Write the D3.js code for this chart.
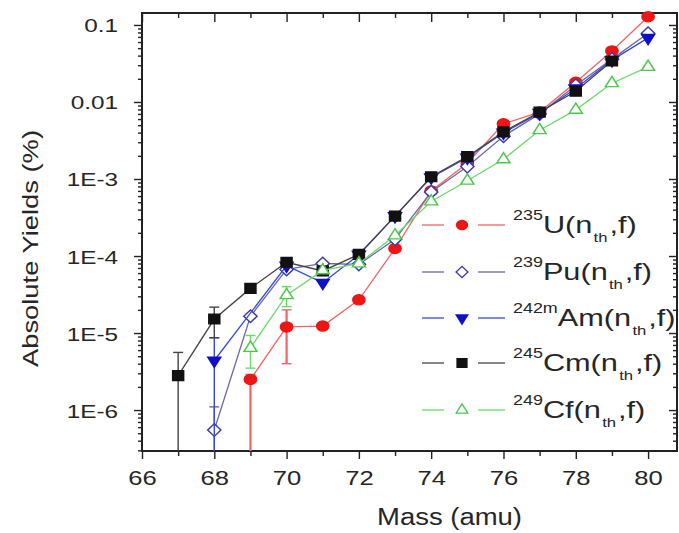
<!DOCTYPE html>
<html lang="en">
<head>
<meta charset="UTF-8">
<title>Absolute Yields</title>
<style>
  body { margin: 0; background: #fff; }
  svg { display: block; }
  text { font-family: "Liberation Sans", Arial, sans-serif; fill: #262626; }
</style>
</head>
<body>
<div id="chart"></div>
<script src="https://d3js.org/d3.v7.min.js"></script>
<script>
// data (absolute yields in %, null = no point)
const masses   = [67, 68, 69, 70, 71, 72, 73, 74, 75, 76, 77, 78, 79, 80];
const yieldU   = [null, null, 2.5e-6, 1.2e-5, 1.23e-5, 2.7e-5, 1.25e-4, 7.0e-4, 1.6e-3, 5.2e-3, 7.4e-3, 1.8e-2, 4.6e-2, 0.128];
const yieldPu  = [null, 5.5e-7, 1.65e-5, 6.7e-5, 8.0e-5, 7.8e-5, 1.65e-4, 6.8e-4, 1.45e-3, 3.6e-3, 7.0e-3, 1.65e-2, 3.6e-2, 0.078];
const yieldAm  = [null, 4.4e-6, null, 7.5e-5, 4.5e-5, 1.04e-4, 3.3e-4, 1.05e-3, 1.9e-3, 4.0e-3, 7.2e-3, 1.5e-2, 3.5e-2, 0.068];
const yieldCm  = [2.8e-6, 1.52e-5, 3.8e-5, 8.3e-5, 6.4e-5, 1.05e-4, 3.3e-4, 1.07e-3, 1.95e-3, 4.1e-3, 7.4e-3, 1.38e-2, 3.4e-2, null];
const yieldCf  = [null, null, 6.4e-6, 3.1e-5, 6.5e-5, 8.0e-5, 1.85e-4, 5.1e-4, 9.5e-4, 1.8e-3, 4.3e-3, 7.9e-3, 1.75e-2, 0.0285];

// error bars: upper / lower extents (same index as masses)
const errUpU  = [0, 0, 0.4e-6, 8e-6, 0, 0, 0, 0, 0, 0, 0, 0, 0, 0];
const errLoU  = [0, 0, 2.5e-6, 8e-6, 0, 0, 0, 0, 0, 0, 0, 0, 0, 0];
const errPu = [0, 5.5e-7, 0, 0, 0, 0, 0, 0, 0, 0, 0, 0, 0, 0];
const errAm = [0, 4.3e-6, 0, 0, 0, 0, 0, 0, 0, 0, 0, 0, 0, 0];
const errCm = [2.8e-6, 6.5e-6, 4e-6, 0, 0, 0, 0, 0, 0, 0, 0, 0, 0, 0];
const errCf = [0, 0, 2.9e-6, 9e-6, 0, 0, 0, 0, 0, 0, 0, 0, 0, 0];

const isotopes = ["235", "239", "242m", "245", "249"];
const elements = ["U", "Pu", "Am", "Cm", "Cf"];

const xTickValues = [66, 68, 70, 72, 74, 76, 78, 80];
const xMinorValues = [67, 69, 71, 73, 75, 77, 79];
const yTickValues = [1e-6, 1e-5, 1e-4, 1e-3, 0.01, 0.1];
const yTickLabels = ["1E-6", "1E-5", "1E-4", "1E-3", "0.01", "0.1"];

const W = 679, H = 533;
const pLeft = 142, pRight = 677, pTop = 13, pBottom = 451;
const stretch = 1.28;

const svg = d3.select("#chart").append("svg").attr("width", W).attr("height", H);

const x = d3.scaleLinear().domain([66, 80.8]).range([pLeft, pRight]);
const y = d3.scaleLog().domain([2.94e-7, 0.143]).range([pBottom, pTop]);

// minor log ticks
const yMinor = [];
[-7, -6, -5, -4, -3, -2, -1].forEach(e => {
  for (let k = 2; k <= 9; k++) {
    const v = k * Math.pow(10, e);
    if (v >= y.domain()[0] && v <= y.domain()[1]) yMinor.push(v);
  }
});

const axisStyle = g => {
  g.selectAll("line").attr("stroke", "#222").attr("stroke-width", 1.4);
  g.select(".domain").remove();
};

// left axis
svg.append("g").attr("transform", `translate(${pLeft},0)`)
  .call(d3.axisLeft(y).tickValues(yTickValues).tickSize(8)
    .tickFormat((d, i) => yTickLabels[i]))
  .call(axisStyle)
  .call(g => g.selectAll("text")
    .attr("x", 0).attr("dy", null)
    .attr("transform", "translate(-24,7) scale(" + stretch + ",1)")
    .style("font-size", "19px").attr("fill", "#262626"));
svg.append("g").attr("transform", `translate(${pLeft},0)`)
  .call(d3.axisLeft(y).tickValues(yMinor).tickSize(4).tickFormat(""))
  .call(axisStyle);

// right axis, ticks inward
svg.append("g").attr("transform", `translate(${pRight},0)`)
  .call(d3.axisRight(y).tickValues(yTickValues).tickSize(-8).tickFormat(""))
  .call(axisStyle);
svg.append("g").attr("transform", `translate(${pRight},0)`)
  .call(d3.axisRight(y).tickValues(yMinor).tickSize(-4).tickFormat(""))
  .call(axisStyle);

// bottom axis
svg.append("g").attr("transform", `translate(0,${pBottom})`)
  .call(d3.axisBottom(x).tickValues(xTickValues).tickSize(8).tickFormat(d3.format("d")))
  .call(axisStyle)
  .call(g => g.selectAll("text")
    .attr("y", 0).attr("dy", null)
    .attr("transform", "translate(0,34) scale(" + stretch + ",1)")
    .style("font-size", "20px").attr("fill", "#262626"));
svg.append("g").attr("transform", `translate(0,${pBottom})`)
  .call(d3.axisBottom(x).tickValues(xMinorValues).tickSize(5).tickFormat(""))
  .call(axisStyle);

// top axis, ticks inward
svg.append("g").attr("transform", `translate(0,${pTop})`)
  .call(d3.axisTop(x).tickValues(xTickValues).tickSize(-9).tickFormat(""))
  .call(axisStyle);
svg.append("g").attr("transform", `translate(0,${pTop})`)
  .call(d3.axisTop(x).tickValues(xMinorValues).tickSize(-5).tickFormat(""))
  .call(axisStyle);

// frame
svg.append("rect")
  .attr("x", pLeft).attr("y", pTop)
  .attr("width", pRight - pLeft).attr("height", pBottom - pTop)
  .attr("fill", "none").attr("stroke", "#222").attr("stroke-width", 2);

// axis titles
svg.append("text")
  .attr("x", 449.5).attr("y", 525)
  .attr("text-anchor", "middle")
  .attr("textLength", 145).attr("lengthAdjust", "spacingAndGlyphs")
  .style("font-size", "23px")
  .text("Mass (amu)");

svg.append("text")
  .attr("transform", "rotate(-90)")
  .attr("x", -248.5).attr("y", 38)
  .attr("text-anchor", "middle")
  .attr("textLength", 237).attr("lengthAdjust", "spacingAndGlyphs")
  .style("font-size", "22px")
  .text("Absolute Yields (%)");

// series
const series = [
  { vals: yieldU,  up: errUpU, lo: errLoU, line: "#f06464", mark: "#ee1515", fill: "#ee1515", sym: d3.symbolCircle,   size: 80, rot: 0,  sx: 1.2 },
  { vals: yieldPu, up: errPu,  lo: errPu,  line: "#6a6aa6", mark: "#3a3ab0", fill: "#fff",    sym: d3.symbolSquare,   size: 80, rot: 45, sx: 1.05 },
  { vals: yieldAm, up: errAm,  lo: errAm,  line: "#3848dc", mark: "#1010c8", fill: "#1010c8", sym: d3.symbolTriangle, size: 60, rot: 180, sx: 1.1 },
  { vals: yieldCm, up: errCm,  lo: errCm,  line: "#444",    mark: "#111",    fill: "#111",    sym: d3.symbolSquare,   size: 95, rot: 0,  sx: 1.12 },
  { vals: yieldCf, up: errCf,  lo: errCf,  line: "#6ada6a", mark: "#4cc84c", fill: "#fff",    sym: d3.symbolTriangle, size: 60, rot: 0,  sx: 1.1 }
];

const ymin = y.domain()[0];
const line = d3.line()
  .defined(d => d.v !== null)
  .x(d => x(d.m)).y(d => y(d.v));

series.forEach((s, si) => {
  const pts = masses.map((m, i) => ({ m: m, v: s.vals[i], up: s.up[i], lo: s.lo[i] }));
  const valid = pts.filter(d => d.v !== null);
  const g = svg.append("g");

  g.append("path")
    .datum(valid)
    .attr("d", line)
    .attr("fill", "none")
    .attr("stroke", s.line)
    .attr("stroke-width", 1.3);

  // error bars
  valid.filter(d => d.up > 0 || d.lo > 0).forEach(d => {
    const hi = y(d.v + d.up);
    const lo = d.v - d.lo > ymin ? y(d.v - d.lo) : pBottom;
    const cx = x(d.m);
    g.append("line").attr("x1", cx).attr("x2", cx).attr("y1", hi).attr("y2", lo)
      .attr("stroke", s.line).attr("stroke-width", si === 0 ? 2.2 : 1.4);
    g.append("line").attr("x1", cx - 5).attr("x2", cx + 5).attr("y1", hi).attr("y2", hi)
      .attr("stroke", s.line).attr("stroke-width", 1.4);
    if (lo < pBottom) {
      g.append("line").attr("x1", cx - 5).attr("x2", cx + 5).attr("y1", lo).attr("y2", lo)
        .attr("stroke", s.line).attr("stroke-width", 1.4);
    }
  });

  g.selectAll("path.mark")
    .data(valid)
    .join("path")
    .attr("class", "mark")
    .attr("d", d3.symbol().type(s.sym).size(s.size))
    .attr("transform", d => `translate(${x(d.m)},${y(d.v)}) scale(${s.sx},1) rotate(${s.rot})`)
    .attr("fill", s.fill)
    .attr("stroke", s.mark)
    .attr("stroke-width", 1.4);
});

// legend
const legendY = [225, 272, 318, 363, 410];
series.forEach((s, i) => {
  const ly = legendY[i];
  const g = svg.append("g");
  g.append("line").attr("x1", 422).attr("x2", 444).attr("y1", ly).attr("y2", ly)
    .attr("stroke", s.line).attr("stroke-width", 1.3);
  g.append("line").attr("x1", 478).attr("x2", 505).attr("y1", ly).attr("y2", ly)
    .attr("stroke", s.line).attr("stroke-width", 1.3);
  g.append("path")
    .attr("d", d3.symbol().type(s.sym).size(s.size * 0.8))
    .attr("transform", `translate(462,${ly}) scale(${s.sx},1) rotate(${s.rot})`)
    .attr("fill", s.fill).attr("stroke", s.mark).attr("stroke-width", 1.3);

  const t = g.append("text")
    .attr("transform", `translate(513,${ly + 8}) scale(${stretch},1)`);
  t.append("tspan").attr("dy", -13).style("font-size", "14px").text(isotopes[i]);
  t.append("tspan").attr("dy", 13).style("font-size", "24px").text(elements[i] + "(n");
  t.append("tspan").attr("dx", 1).attr("dy", 9).style("font-size", "13px").text("th");
  t.append("tspan").attr("dx", 1.5).attr("dy", -9).style("font-size", "24px").text(",f)");
});
</script>
</body>
</html>
